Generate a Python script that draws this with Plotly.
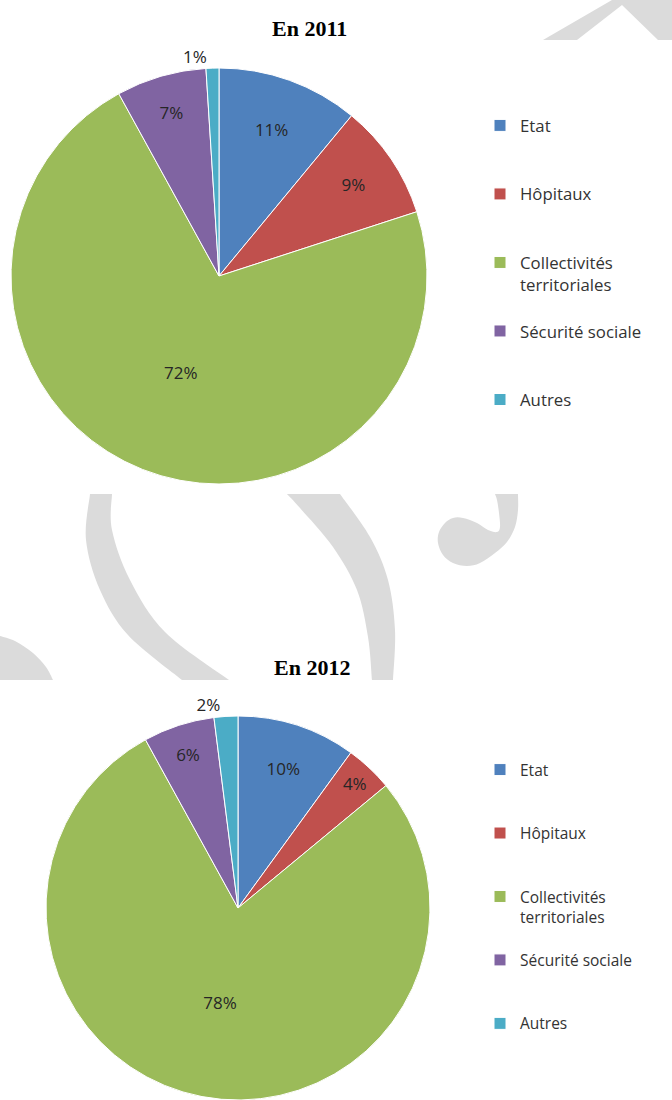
import plotly.graph_objects as go

# ---- data -------------------------------------------------------------
categories = ["Etat", "Hôpitaux", "Collectivités territoriales",
              "Sécurité sociale", "Autres"]
legend_labels = ["Etat", "Hôpitaux", "Collectivités<br>territoriales",
                 "Sécurité sociale", "Autres"]
shares_2011 = [11, 9, 72, 7, 1]
shares_2012 = [10, 4, 78, 6, 2]
titles = ["En 2011", "En 2012"]
colors = ["#4F81BD", "#C0504D", "#9BBB59", "#8064A2", "#4BACC6"]

W, H = 672, 1100
LABEL_FONT = "Open Sans, Lato, sans-serif"


def padded(label, filler, n_lines=3):
    """Pad a legend label with blank lines so every entry has the same height.

    Each pie gets its own invisible filler character so that the two legends
    keep separate entries."""
    extra = n_lines - (label.count("<br>") + 1)
    return label + ("<br>" + filler) * extra


def px_x(x):
    return x / W


def px_y(y):
    return 1 - y / H


def smooth(points):
    """Catmull-Rom spline through pixel points -> SVG cubic segments (paper coords)."""
    pts = [points[0]] + list(points) + [points[-1]]
    segs = []
    for i in range(1, len(pts) - 2):
        p0, p1, p2, p3 = pts[i - 1], pts[i], pts[i + 1], pts[i + 2]
        c1 = (p1[0] + (p2[0] - p0[0]) / 6, p1[1] + (p2[1] - p0[1]) / 6)
        c2 = (p2[0] - (p3[0] - p1[0]) / 6, p2[1] - (p3[1] - p1[1]) / 6)
        segs.append("C {:.5f},{:.5f} {:.5f},{:.5f} {:.5f},{:.5f}".format(
            px_x(c1[0]), px_y(c1[1]), px_x(c2[0]), px_y(c2[1]),
            px_x(p2[0]), px_y(p2[1])))
    return " ".join(segs)


def pt(p):
    return "{:.5f},{:.5f}".format(px_x(p[0]), px_y(p[1]))


def poly(points):
    return "M " + " L ".join(pt(p) for p in points) + " Z"


# ---- pies -------------------------------------------------------------
fig = go.Figure()

pie_specs = [
    # values, legend id, filler, domain in pixels (x0, x1, y0, y1)
    (shares_2011, "legend", "\u00a0", (11, 427, 68, 484)),
    (shares_2012, "legend2", "\u2007", (46, 430, 716, 1100)),
]

for values, legend_id, filler, (x0, x1, y0, y1) in pie_specs:
    fig.add_trace(go.Pie(
        labels=[padded(lbl, filler) for lbl in legend_labels],
        values=values,
        customdata=categories,
        sort=False,
        direction="clockwise",
        rotation=0,
        marker=dict(colors=colors, line=dict(color="white", width=1)),
        textinfo="percent",
        texttemplate="%{percent:.0%}",
        textposition=["inside", "inside", "inside", "inside", "outside"],
        insidetextorientation="horizontal",
        textfont=dict(family=LABEL_FONT, size=17, color="#262626"),
        hovertemplate="%{customdata}: %{value}%<extra></extra>",
        domain=dict(x=[px_x(x0), px_x(x1)], y=[px_y(y1), px_y(y0)]),
        legend=legend_id,
    ))

# ---- titles -----------------------------------------------------------
annotations = []
for title, (tx, ty) in zip(titles, [(309, 28), (312, 667)]):
    annotations.append(dict(
        text=f"<b>{title}</b>", x=px_x(tx), y=px_y(ty), xref="paper",
        yref="paper", xanchor="center", yanchor="middle", showarrow=False,
        font=dict(family="Liberation Serif, Times New Roman, serif",
                  size=22, color="#000000")))

# ---- light grey background ornament ----------------------------------
WM = "#dbdbdb"
shapes = []
# chevron, top right
shapes.append(poly([(543, 40), (612, 0), (672, 0), (672, 40), (658, 40),
                    (622, 5), (577, 40)]))
# blob, lower left of the gap
shapes.append("M " + pt((0, 636)) + " " +
              smooth([(0, 636), (15, 641), (33, 653), (46, 667), (53, 680)]) +
              " L " + pt((0, 680)) + " Z")
# crescent band
outer = [(90, 494), (86, 540), (100, 590), (128, 635), (182, 680)]
inner = [(229, 680), (165, 632), (130, 580), (112, 530), (112, 494)]
shapes.append("M " + pt(outer[0]) + " " + smooth(outer) + " L " +
              pt(inner[0]) + " " + smooth(inner) + " Z")
# second band
left = [(287, 494), (300, 508), (333, 547), (357, 590), (368, 637), (372, 680)]
right = [(393, 680), (395, 630), (388, 580), (370, 537), (340, 494)]
shapes.append("M " + pt(left[0]) + " " + smooth(left) + " L " +
              pt(right[0]) + " " + smooth(right) + " Z")
# hook
hook = [(518, 494), (518, 510), (515, 527), (507, 542), (495, 553),
        (480, 563), (467, 566), (453, 563), (443, 555), (438, 543),
        (439, 532), (445, 523), (453, 518), (463, 518), (477, 523),
        (488, 530), (497, 532), (500, 527), (499, 513), (497, 500),
        (495, 494)]
shapes.append("M " + pt(hook[0]) + " " + smooth(hook) + " Z")

layout_shapes = [dict(type="path", path=p, xref="paper", yref="paper",
                      fillcolor=WM, line=dict(width=0), layer="below")
                 for p in shapes]

legend_common = dict(xanchor="left", yanchor="top", valign="top",
                     bgcolor="rgba(0,0,0,0)", borderwidth=0,
                     traceorder="normal")

fig.update_layout(
    width=W, height=H,
    margin=dict(l=0, r=0, t=0, b=0, autoexpand=False),
    paper_bgcolor="white", plot_bgcolor="white",
    showlegend=True,
    uniformtext=dict(minsize=15, mode="show"),
    legend=dict(x=px_x(480), y=px_y(108),
                font=dict(family=LABEL_FONT, size=16.8, color="#333333"),
                **legend_common),
    legend2=dict(x=px_x(480), y=px_y(753),
                 font=dict(family=LABEL_FONT, size=15.5, color="#333333"),
                 **legend_common),
    annotations=annotations,
    shapes=layout_shapes,
)

fig.write_html("out.html", config={"displayModeBar": False})
